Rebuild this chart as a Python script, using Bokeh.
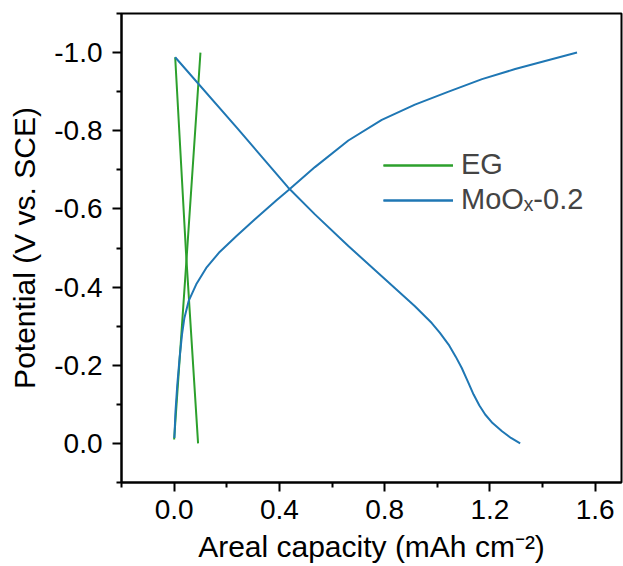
from bokeh.plotting import figure
from bokeh.models import Range1d, FixedTicker, PrintfTickFormatter, Legend, LegendItem
from bokeh.embed import file_html
from bokeh.resources import INLINE

# EG (green): charge and discharge branches
eg_charge_x = [0.0, 0.05, 0.100]
eg_charge_y = [-0.01, -0.50, -1.00]
eg_dis_x = [0.004, 0.045, 0.091]
eg_dis_y = [-0.988, -0.49, 0.0]

# MoOx-0.2 (blue): charge branch
mo_charge_x = [0.001, 0.005, 0.012, 0.021, 0.030, 0.039, 0.055, 0.084, 0.122, 0.173,
               0.236, 0.306, 0.389, 0.434, 0.535, 0.662, 0.789, 0.915,
               1.043, 1.170, 1.296, 1.424, 1.531]
mo_charge_y = [-0.014, -0.080, -0.150, -0.220, -0.279, -0.321, -0.364, -0.407, -0.449, -0.490,
               -0.530, -0.573, -0.622, -0.648, -0.707, -0.775, -0.828, -0.867,
               -0.900, -0.932, -0.958, -0.981, -1.000]

# MoOx-0.2 (blue): discharge branch
mo_dis_x = [0.004, 0.243, 0.433, 0.535, 0.662, 0.789, 0.915, 0.979, 1.010, 1.043, 1.070,
            1.093, 1.115, 1.138, 1.160, 1.182, 1.210, 1.246, 1.280, 1.315]
mo_dis_y = [-0.988, -0.804, -0.655, -0.586, -0.505, -0.428, -0.351, -0.308, -0.283, -0.253, -0.222,
            -0.193, -0.160, -0.125, -0.097, -0.074, -0.052, -0.031, -0.014, 0.0]

x_major = [0.0, 0.4, 0.8, 1.2, 1.6]
x_minor = [-0.2, 0.2, 0.6, 1.0, 1.4]
y_major = [0.0, -0.2, -0.4, -0.6, -0.8, -1.0]
y_minor = [0.1, -0.1, -0.3, -0.5, -0.7, -0.9, -1.1]

GREEN = "#2ca02c"
BLUE = "#1f77b4"
FONT = "Liberation Sans"

p = figure(width=623, height=566, output_backend="svg", toolbar_location=None,
           x_range=Range1d(-0.2, 1.7), y_range=Range1d(0.1, -1.1),
           min_border_left=121, min_border_right=2, min_border_top=13, min_border_bottom=84)

p.grid.visible = False
p.outline_line_color = "black"
p.outline_line_width = 2
p.background_fill_color = "white"
p.border_fill_color = "white"

g1 = p.line(eg_charge_x, eg_charge_y, line_color=GREEN, line_width=2)
g2 = p.line(eg_dis_x, eg_dis_y, line_color=GREEN, line_width=2)
b1 = p.line(mo_charge_x, mo_charge_y, line_color=BLUE, line_width=2)
b2 = p.line(mo_dis_x, mo_dis_y, line_color=BLUE, line_width=2)

for ax, maj, mnr in ((p.xaxis[0], x_major, x_minor), (p.yaxis[0], y_major, y_minor)):
    ax.ticker = FixedTicker(ticks=maj, minor_ticks=mnr)
    ax.formatter = PrintfTickFormatter(format="%.1f")
    ax.axis_line_width = 2
    ax.axis_line_color = "black"
    ax.major_tick_line_width = 2
    ax.minor_tick_line_width = 2
    ax.major_tick_out = 9
    ax.major_tick_in = 0
    ax.minor_tick_out = 5
    ax.minor_tick_in = 0
    ax.major_label_text_font = FONT
    ax.major_label_text_font_size = "28px"
    ax.major_label_text_color = "black"
    ax.axis_label_text_font = FONT
    ax.axis_label_text_font_size = "30px"
    ax.axis_label_text_font_style = "normal"
    ax.axis_label_text_color = "black"

p.xaxis[0].axis_label = "Areal capacity (mAh cm\u207b\u00b2)"
p.yaxis[0].axis_label = "Potential (V vs. SCE)"
p.xaxis[0].major_label_standoff = 8
p.xaxis[0].axis_label_standoff = 8
p.yaxis[0].major_label_standoff = 10
p.yaxis[0].axis_label_standoff = 10

legend = Legend(items=[LegendItem(label="EG", renderers=[g1, g2]),
                       LegendItem(label="MoO\u2093-0.2", renderers=[b1, b2])],
                location=(262, 266), glyph_width=70, glyph_height=20, label_height=20,
                label_standoff=8, spacing=2, padding=0, margin=0,
                border_line_color=None, background_fill_alpha=0,
                label_text_font=FONT, label_text_font_size="29px")
p.add_layout(legend)

open("out.html", "w").write(file_html(p, INLINE))
